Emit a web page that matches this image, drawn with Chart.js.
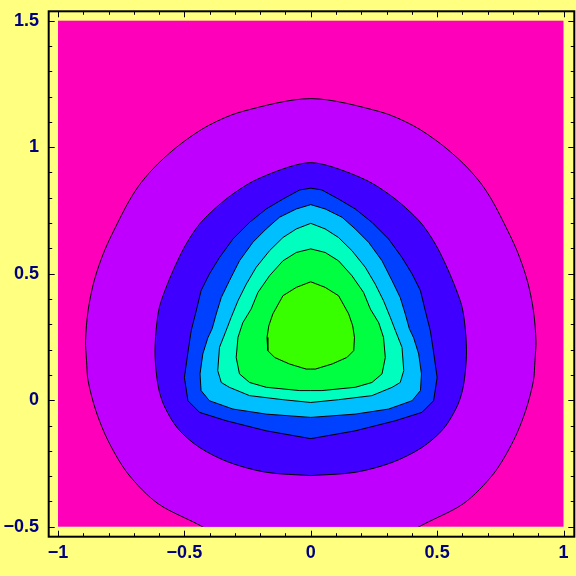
<!DOCTYPE html>
<html>
<head>
<meta charset="utf-8">
<script src="https://cdn.jsdelivr.net/npm/chart.js@4/dist/chart.umd.min.js"></script>
<style>
  html, body { margin: 0; padding: 0; background: #FFFF80; }
  canvas { display: block; }
</style>
</head>
<body>
<canvas id="grafico" width="576" height="576"></canvas>
<script>
// tick values and labels
const xTicks = [-1, -0.5, 0, 0.5, 1];
const xTickLabels = ['\u22121', '\u22120.5', '0', '0.5', '1'];
const yTicks = [-0.5, 0, 0.5, 1, 1.5];
const yTickLabels = ['\u22120.5', '0', '0.5', '1', '1.5'];

// contour levels, outermost first
const ring1X = [0, 0.25, 0.422, 0.604, 0.723, 0.802, 0.850, 0.881, 0.887, 0.891, 0.881, 0.857, 0.816, 0.760, 0.716, 0.671, 0.604, 0.513, 0.406, 0.275, 0,
  -0.275, -0.406, -0.513, -0.604, -0.671, -0.716, -0.760, -0.816, -0.857, -0.881, -0.891, -0.887, -0.881, -0.850, -0.802, -0.723, -0.604, -0.422, -0.25, 0];
const ring1Y = [-0.66, -0.62, -0.504, -0.409, -0.291, -0.160, -0.042, 0.077, 0.156, 0.235, 0.354, 0.472, 0.591, 0.709, 0.792, 0.860, 0.935, 1.014, 1.085, 1.140, 1.192,
  1.140, 1.085, 1.014, 0.935, 0.860, 0.792, 0.709, 0.591, 0.472, 0.354, 0.235, 0.156, 0.077, -0.042, -0.160, -0.291, -0.409, -0.504, -0.62, -0.66];

const ring2X = [0, 0.176, 0.322, 0.440, 0.525, 0.580, 0.604, 0.616, 0.612, 0.599, 0.572, 0.533, 0.493, 0.440, 0.374, 0.308, 0.223, 0.089, 0,
  -0.089, -0.223, -0.308, -0.374, -0.440, -0.493, -0.533, -0.572, -0.599, -0.612, -0.616, -0.604, -0.580, -0.525, -0.440, -0.322, -0.176, 0];
const ring2Y = [-0.298, -0.285, -0.246, -0.187, -0.113, -0.022, 0.057, 0.176, 0.275, 0.367, 0.446, 0.538, 0.617, 0.696, 0.762, 0.815, 0.868, 0.921, 0.939,
  0.921, 0.868, 0.815, 0.762, 0.696, 0.617, 0.538, 0.446, 0.367, 0.275, 0.176, 0.057, -0.022, -0.113, -0.187, -0.246, -0.285, -0.298];

const ring3X = [0, 0.176, 0.335, 0.440, 0.486, 0.500, 0.485, 0.473, 0.453, 0.434, 0.401, 0.361, 0.308, 0.242, 0.176, 0.110, 0.044, 0,
  -0.044, -0.110, -0.176, -0.242, -0.308, -0.361, -0.401, -0.434, -0.453, -0.473, -0.485, -0.500, -0.486, -0.440, -0.335, -0.176, 0];
const ring3Y = [-0.152, -0.121, -0.081, -0.048, -0.002, 0.090, 0.196, 0.275, 0.354, 0.433, 0.499, 0.564, 0.637, 0.703, 0.756, 0.795, 0.831, 0.838,
  0.831, 0.795, 0.756, 0.703, 0.637, 0.564, 0.499, 0.433, 0.354, 0.275, 0.196, 0.090, -0.002, -0.048, -0.081, -0.121, -0.152];

const ring4X = [0, 0.176, 0.308, 0.401, 0.434, 0.438, 0.427, 0.407, 0.390, 0.374, 0.354, 0.322, 0.282, 0.229, 0.176, 0.124, 0.057, 0,
  -0.057, -0.124, -0.176, -0.229, -0.282, -0.322, -0.354, -0.374, -0.390, -0.407, -0.427, -0.438, -0.434, -0.401, -0.308, -0.176, 0];
const ring4Y = [-0.068, -0.055, -0.035, -0.002, 0.038, 0.104, 0.183, 0.247, 0.283, 0.341, 0.406, 0.472, 0.551, 0.624, 0.677, 0.723, 0.756, 0.773,
  0.756, 0.723, 0.677, 0.624, 0.551, 0.472, 0.406, 0.341, 0.283, 0.247, 0.183, 0.104, 0.038, -0.002, -0.035, -0.055, -0.068];

const ring5X = [0, 0.110, 0.242, 0.322, 0.354, 0.368, 0.361, 0.335, 0.315, 0.288, 0.255, 0.216, 0.163, 0.110, 0.057, 0,
  -0.057, -0.110, -0.163, -0.216, -0.255, -0.288, -0.315, -0.335, -0.361, -0.368, -0.354, -0.322, -0.242, -0.110, 0];
const ring5Y = [-0.009, 0.002, 0.018, 0.051, 0.070, 0.117, 0.209, 0.275, 0.327, 0.393, 0.459, 0.525, 0.591, 0.643, 0.677, 0.699,
  0.677, 0.643, 0.591, 0.525, 0.459, 0.393, 0.327, 0.275, 0.209, 0.117, 0.070, 0.051, 0.018, 0.002, -0.009];

const ring6X = [0, 0.044, 0.176, 0.242, 0.282, 0.295, 0.288, 0.269, 0.236, 0.209, 0.163, 0.110, 0.057, 0,
  -0.057, -0.110, -0.163, -0.209, -0.236, -0.269, -0.288, -0.295, -0.282, -0.242, -0.176, -0.044, 0];
const ring6Y = [0.038, 0.038, 0.051, 0.070, 0.104, 0.169, 0.248, 0.306, 0.360, 0.426, 0.492, 0.551, 0.584, 0.598,
  0.584, 0.551, 0.492, 0.426, 0.360, 0.306, 0.248, 0.169, 0.104, 0.070, 0.051, 0.038, 0.038];

const ring7X = [0, 0.018, 0.084, 0.143, 0.170, 0.173, 0.166, 0.150, 0.110, 0.057, 0,
  -0.057, -0.110, -0.150, -0.166, -0.173, -0.170, -0.143, -0.084, -0.018, 0];
const ring7Y = [0.123, 0.123, 0.143, 0.169, 0.196, 0.248, 0.294, 0.341, 0.413, 0.446, 0.468,
  0.446, 0.413, 0.341, 0.294, 0.248, 0.196, 0.169, 0.143, 0.123, 0.123];

const levelColors = ['#BF00FF', '#4000FF', '#0040FF', '#00BFFF', '#00FFBF', '#00FF40', '#38FF00'];
const outsideColor = '#FF00BA';

const rings = [
  [ring1X, ring1Y], [ring2X, ring2Y], [ring3X, ring3Y], [ring4X, ring4Y],
  [ring5X, ring5Y], [ring6X, ring6Y], [ring7X, ring7Y]
];

const datasets = rings.map(([xs, ys], i) => ({
  data: xs.map((x, k) => ({ x: x, y: ys[k] })),
  showLine: true,
  fill: 'shape',
  backgroundColor: levelColors[i],
  borderColor: '#000000',
  borderWidth: 1,
  pointRadius: 0,
  pointHoverRadius: 0,
  tension: i < 2 ? 0.3 : 0,
  capBezierPoints: false,
  clip: 0,
  order: rings.length - i   // outer rings drawn first
}));

// plot background, frame and tick marks
const framePlugin = {
  id: 'frame',
  beforeDraw(chart) {
    const { ctx, chartArea: a } = chart;
    ctx.save();
    ctx.fillStyle = outsideColor;
    ctx.fillRect(a.left, a.top, a.right - a.left, a.bottom - a.top);
    ctx.restore();
  },
  afterDraw(chart) {
    const { ctx, chartArea: a, scales } = chart;
    const left = a.left - 9.3, right = a.right + 10.8, top = a.top - 9.4, bottom = a.bottom + 10;
    ctx.save();
    ctx.strokeStyle = '#000';
    ctx.lineWidth = 2;
    ctx.strokeRect(left, top, right - left, bottom - top);
    ctx.lineWidth = 1;
    ctx.beginPath();
    for (let i = 0; i <= 20; i++) {
      const px = Math.round(scales.x.getPixelForValue(-1 + i * 0.1)) + 0.5;
      const len = i % 5 === 0 ? 6 : 3.5;
      ctx.moveTo(px, bottom); ctx.lineTo(px, bottom - len);
      ctx.moveTo(px, top); ctx.lineTo(px, top + len);
    }
    for (let i = 0; i <= 20; i++) {
      const py = Math.round(scales.y.getPixelForValue(-0.5 + i * 0.1)) + 0.5;
      const len = i % 5 === 0 ? 6 : 3.5;
      ctx.moveTo(left, py); ctx.lineTo(left + len, py);
      ctx.moveTo(right, py); ctx.lineTo(right - len, py);
    }
    ctx.stroke();
    ctx.restore();
  }
};

const tickFont = { family: 'Liberation Sans', size: 18, weight: 'bold' };

// keep the label overflow from pushing the plot area around
function noPadding(s) {
  s.paddingTop = 0; s.paddingBottom = 0; s.paddingLeft = 0; s.paddingRight = 0;
}

new Chart(document.getElementById('grafico'), {
  type: 'scatter',
  data: { datasets: datasets },
  options: {
    responsive: false,
    animation: false,
    events: [],
    layout: { padding: { left: 0, top: 20.7, right: 12.5, bottom: 0 } },
    plugins: { legend: { display: false }, tooltip: { enabled: false } },
    scales: {
      x: {
        type: 'linear',
        min: -1,
        max: 1,
        grid: { display: false, drawTicks: false },
        border: { display: false },
        afterBuildTicks: (s) => { s.ticks = xTicks.map(v => ({ value: v })); },
        afterFit: (s) => { s.height = 49.3; noPadding(s); },
        ticks: {
          padding: 16,
          color: '#000080',
          font: tickFont,
          maxRotation: 0,
          autoSkip: false,
          callback: (v, i) => xTickLabels[i]
        }
      },
      y: {
        type: 'linear',
        min: -0.5,
        max: 1.5,
        grid: { display: false, drawTicks: false },
        border: { display: false },
        afterBuildTicks: (s) => { s.ticks = yTicks.map(v => ({ value: v })); },
        afterFit: (s) => { s.width = 58; noPadding(s); },
        ticks: {
          padding: 19,
          color: '#000080',
          font: tickFont,
          autoSkip: false,
          callback: (v, i) => yTickLabels[i]
        }
      }
    }
  },
  plugins: [framePlugin]
});
</script>
</body>
</html>
